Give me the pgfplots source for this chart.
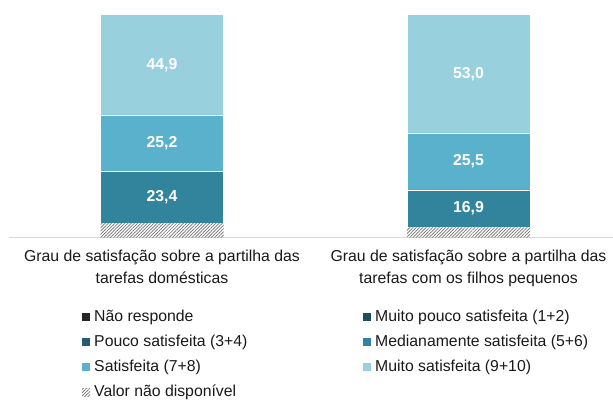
\documentclass[border=0pt]{standalone}
\usepackage{pgfplots}
\pgfplotsset{compat=1.18}
\usepackage{fontspec}
\setmainfont{Liberation Sans}
\usetikzlibrary{patterns.meta}
\definecolor{cNR}{HTML}{262626}
\definecolor{cMP}{HTML}{1D4E5B}
\definecolor{cP}{HTML}{235E70}
\definecolor{cM}{HTML}{31849B}
\definecolor{cS}{HTML}{5AB1CB}
\definecolor{cMS}{HTML}{98D0DE}
\definecolor{axgray}{HTML}{D9D9D9}
\definecolor{hatchgray}{HTML}{707070}
\pgfplotstableread{
x v
0 6.5
1 4.6
}\tblNA
\pgfplotstableread{
x v
0 0
1 0
}\tblNR
\pgfplotstableread{
x v
0 0
1 0
}\tblMP
\pgfplotstableread{
x v
0 0
1 0
}\tblP
\pgfplotstableread{
x v
0 23.4
1 16.9
}\tblM
\pgfplotstableread{
x v
0 25.2
1 25.5
}\tblS
\pgfplotstableread{
x v
0 44.9
1 53.0
}\tblMS
\pgfplotstableread{
x y m
0 18.2 23.4
0 42.5 25.2
0 77.55 44.9
1 13.05 16.9
1 34.25 25.5
1 73.5 53.0
}\tblLab
\begin{document}
\begin{tikzpicture}
\path[use as bounding box] (0,0) rectangle (613bp,400bp);
\begin{axis}[
  at={(9bp,162.3bp)}, anchor=south west,
  scale only axis, width=604bp, height=223bp,
  xmin=-0.4992, xmax=1.4714, ymin=0, ymax=100,
  ybar stacked, bar width=123bp,
  axis x line*=bottom, axis y line=none,
  x axis line style={draw=axgray, line width=1bp},
  xtick={0,1},
  xticklabels={{Grau de satisfação sobre a partilha das\\tarefas domésticas},{Grau de satisfação sobre a partilha das\\tarefas com os filhos pequenos}},
  major tick length=0pt,
  xticklabel style={align=center, font=\fontsize{15.8bp}{22bp}\selectfont, inner sep=0pt, yshift=-12bp, anchor=north, text=black!90},
  ytick=\empty,
  clip=false,
  legend columns=2,
  legend cell align=left,
  legend style={draw=none, fill=none, inner sep=0pt, at={(axis description cs:0.1209,-0.3242)}, anchor=north west,
    font=\fontsize{15.8bp}{19bp}\selectfont, text=black!90, row sep=11bp,
    nodes={inner sep=0pt, text height=11bp, text depth=3bp},
    /tikz/every odd column/.style={column sep=4bp},
    /tikz/every even column/.style={column sep=0bp}},
  legend image code/.code={\path[#1, draw=none] (0bp,-4bp) rectangle (8bp,4bp);},
]
\addplot[forget plot, fill=white, draw=none, pattern={Lines[angle=45, distance=2.3bp, line width=0.7bp]}, pattern color=hatchgray] table[x=x,y=v]{\tblNA};
\addplot[fill=cNR, draw=none] table[x=x,y=v]{\tblNR};
\addlegendentry{\makebox[269bp][l]{Não responde}}
\addplot[fill=cMP, draw=none] table[x=x,y=v]{\tblMP};
\addlegendentry{Muito pouco satisfeita (1+2)}
\addplot[fill=cP, draw=none] table[x=x,y=v]{\tblP};
\addlegendentry{\makebox[269bp][l]{Pouco satisfeita (3+4)}}
\addplot[fill=cM, draw=white, line width=0.5bp] table[x=x,y=v]{\tblM};
\addlegendentry{Medianamente satisfeita (5+6)}
\addplot[fill=cS, draw=white, line width=0.5bp] table[x=x,y=v]{\tblS};
\addlegendentry{\makebox[269bp][l]{Satisfeita (7+8)}}
\addplot[fill=cMS, draw=white, line width=0.5bp] table[x=x,y=v]{\tblMS};
\addlegendentry{Muito satisfeita (9+10)}
\addlegendimage{pattern={Lines[angle=45, distance=2.3bp, line width=0.7bp]}, pattern color=hatchgray}
\addlegendentry{\makebox[269bp][l]{Valor não disponível}}
\end{axis}
\begin{axis}[
  at={(9bp,162.3bp)}, anchor=south west,
  scale only axis, width=604bp, height=223bp,
  xmin=-0.4992, xmax=1.4714, ymin=0, ymax=100,
  hide axis, clip=false,
  /pgf/number format/.cd, use comma, fixed, fixed zerofill, precision=1, assume math mode=true,
]
\addplot[draw=none, mark=none, nodes near coords, point meta=explicit,
  every node near coord/.append style={anchor=center, text=white, font=\bfseries\fontsize{15.8bp}{19bp}\selectfont}]
  table[x=x,y=y,meta=m]{\tblLab};
\end{axis}
\end{tikzpicture}
\end{document}
